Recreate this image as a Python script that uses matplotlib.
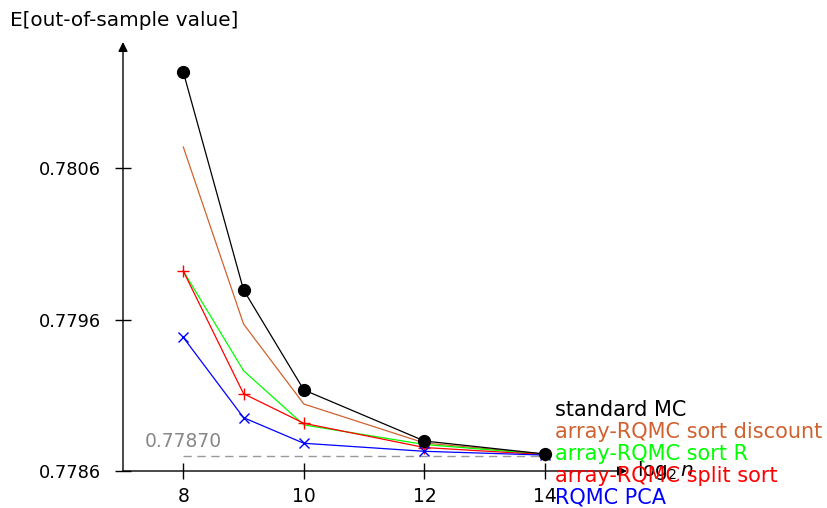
import matplotlib.pyplot as plt

# log2 n values
log2_n = [8, 9, 10, 12, 14]

# expected out-of-sample value per method
standard_mc = [0.781234, 0.779795, 0.779135, 0.778798, 0.778712]
sort_discount = [0.780739, 0.779570, 0.779042, 0.778785, 0.778712]
sort_r = [0.779920, 0.779262, 0.778904, 0.778775, 0.778710]
split_sort = [0.779920, 0.779110, 0.778915, 0.778755, 0.778708]
rqmc_pca = [0.779482, 0.778952, 0.778783, 0.778730, 0.778705]

reference_value = 0.77870
y_ticks = [0.7786, 0.7796, 0.7806]
x_ticks = [8, 10, 12, 14]

ORANGE = '#D0622F'
LIME = '#00FF00'

W, H = 827, 508
fig = plt.figure(figsize=(W / 100, H / 100), dpi=100)
ax = fig.add_axes([123 / W, (H - 471) / H, (627 - 123) / W, (471 - 42) / H])
ax.set_xlim(7.0, 15.36)
ax.set_ylim(0.7786, 0.781432)

for s in ax.spines.values():
    s.set_visible(False)

lw = 0.9
ax.plot(log2_n, [reference_value] * len(log2_n), color='#999999', lw=1.0,
        dashes=(6, 4))
ax.text(8, reference_value + 0.00003, '0.77870', color='#888888',
        fontsize=13.5, ha='center', va='bottom')

ax.plot(log2_n, sort_discount, color=ORANGE, lw=lw)
ax.plot(log2_n, sort_r, color=LIME, lw=lw)
ax.plot(log2_n, split_sort, color='red', lw=lw, marker='+', ms=9, mew=1.0)
ax.plot(log2_n, rqmc_pca, color='blue', lw=lw, marker='x', ms=7, mew=1.0)
ax.plot(log2_n, standard_mc, color='black', lw=lw, marker='o', ms=8.5)

# axis lines with arrow heads
ax.annotate('', xy=(1, 0), xycoords='axes fraction', xytext=(0, 0),
            arrowprops=dict(arrowstyle='-|>', color='black', lw=1.0,
                            mutation_scale=14, shrinkA=0, shrinkB=0))
ax.annotate('', xy=(0, 1), xycoords='axes fraction', xytext=(0, 0),
            arrowprops=dict(arrowstyle='-|>', color='black', lw=1.0,
                            mutation_scale=14, shrinkA=0, shrinkB=0))

ax.set_xticks(x_ticks)
ax.set_xticklabels([str(t) for t in x_ticks])
ax.set_yticks(y_ticks)
ax.set_yticklabels([f'{t:.4f}' for t in y_ticks])
ax.tick_params(axis='x', direction='inout', length=11, width=1.0, pad=6,
               labelsize=13.5)
ax.tick_params(axis='y', direction='inout', length=12, width=1.0, pad=10,
               labelsize=12.8)

ax.text(1.02, 0, r'$\mathrm{log}_2\,n$', transform=ax.transAxes,
        fontsize=14.5, ha='left', va='center')

fig.text(10 / W, 1 - 20 / H, 'E[out-of-sample value]', fontsize=14.4,
         ha='left', va='center')

legend_labels = ['standard MC', 'array-RQMC sort discount', 'array-RQMC sort R',
                 'array-RQMC split sort', 'RQMC PCA']
legend_colors = ['black', ORANGE, LIME, 'red', 'blue']
for i, (lab, col) in enumerate(zip(legend_labels, legend_colors)):
    fig.text(555 / W, 1 - (410 + 22 * i) / H, lab, color=col, fontsize=15,
             ha='left', va='center')

fig.savefig('out.png', dpi=100)
